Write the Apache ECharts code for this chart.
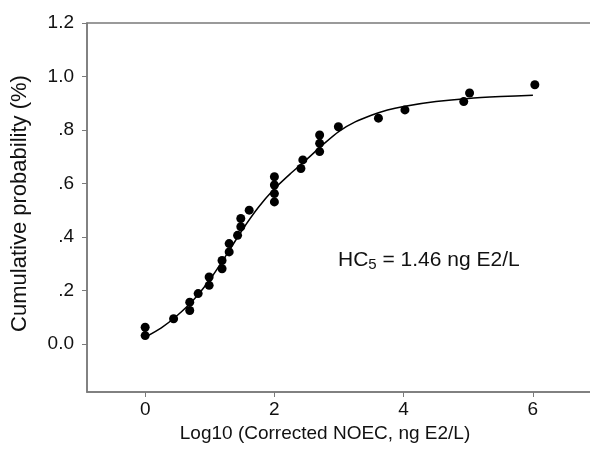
<!DOCTYPE html>
<html>
<head>
<meta charset="utf-8">
<script src="https://cdn.jsdelivr.net/npm/echarts@6/dist/echarts.min.js"></script>
<style>html,body{margin:0;padding:0;background:#fff;}#c{width:590px;height:454px;}</style>
</head>
<body>
<div id="c"></div>
<script>
// Observed data points (Log10 corrected NOEC, cumulative probability)
const pointX = [0, 0, 0.44, 0.69, 0.69, 0.82, 0.99, 0.99, 1.19, 1.19, 1.30, 1.30, 1.43, 1.48, 1.48, 1.61,
  2.0, 2.0, 2.0, 2.0, 2.41, 2.44, 2.70, 2.70, 2.70, 2.99, 3.61, 4.02, 4.93, 5.02, 6.03];
const pointY = [0.031, 0.062, 0.094, 0.125, 0.156, 0.188, 0.219, 0.25, 0.281, 0.312, 0.344, 0.375, 0.406, 0.438, 0.469, 0.5,
  0.531, 0.562, 0.594, 0.625, 0.656, 0.688, 0.719, 0.75, 0.781, 0.812, 0.844, 0.875, 0.906, 0.938, 0.969];
// Fitted curve
const curveX = [0, 0.25, 0.5, 0.75, 1, 1.25, 1.5, 1.75, 2, 2.25, 2.5, 2.75, 3, 3.25, 3.5, 3.75, 4, 4.5, 5, 5.5, 6];
const curveY = [0.025, 0.06, 0.107, 0.165, 0.24, 0.33, 0.425, 0.51, 0.58, 0.637, 0.69, 0.745, 0.795, 0.83, 0.855, 0.875, 0.888, 0.906, 0.918, 0.925, 0.93];
// Tick labels
const xTickValues = [0, 2, 4, 6];
const xTickLabels = ['0', '2', '4', '6'];
const yTickValues = [0, 0.2, 0.4, 0.6, 0.8, 1.0, 1.2];
const yTickLabels = ['0.0', '.2', '.4', '.6', '.8', '1.0', '1.2'];

const FONT = 'Liberation Sans, Arial, Helvetica, sans-serif';
const AXIS_COLOR = '#7a7a7a';
const TEXT_COLOR = '#111';

function lookup(vals, labels, v) {
  const i = vals.findIndex(t => Math.abs(t - v) < 1e-6);
  return i >= 0 ? labels[i] : '';
}

const chart = echarts.init(document.getElementById('c'), null, {renderer: 'canvas'});
chart.setOption({
  animation: false,
  backgroundColor: '#fff',
  grid: {left: 87, right: -3, top: 23, bottom: 62, containLabel: false, outerBoundsMode: 'none',
    show: true, borderColor: AXIS_COLOR, borderWidth: 1.5, backgroundColor: 'transparent'},
  xAxis: [{
    type: 'value', min: -0.9, max: 6.93, position: 'bottom',
    axisLine: {show: true, onZero: false, lineStyle: {color: AXIS_COLOR, width: 1.5}},
    axisTick: {show: true, customValues: xTickValues, length: 5, lineStyle: {color: AXIS_COLOR, width: 1}},
    axisLabel: {customValues: xTickValues, formatter: v => lookup(xTickValues, xTickLabels, v),
      fontSize: 19, fontFamily: FONT, color: TEXT_COLOR, margin: 8},
    splitLine: {show: false},
    name: 'Log10 (Corrected NOEC, ng E2/L)', nameLocation: 'middle', nameGap: 27,
    nameTextStyle: {fontSize: 19, fontFamily: FONT, color: TEXT_COLOR, padding: [0, 30, 0, 0]}
  }],
  yAxis: {
    type: 'value', min: -0.18, max: 1.2,
    axisLine: {show: true, onZero: false, lineStyle: {color: AXIS_COLOR, width: 1.5}},
    axisTick: {show: true, customValues: yTickValues, length: 5, lineStyle: {color: AXIS_COLOR, width: 1}},
    axisLabel: {customValues: yTickValues, formatter: v => lookup(yTickValues, yTickLabels, v),
      fontSize: 19, fontFamily: FONT, color: TEXT_COLOR, margin: 13},
    splitLine: {show: false},
    name: 'Cumulative probability (%)', nameLocation: 'middle', nameGap: 56,
    nameTextStyle: {fontSize: 22, fontFamily: FONT, color: TEXT_COLOR, padding: [0, 0, 0, 8]}
  },
  graphic: [{
    type: 'text', left: 338, top: 250, z: 10,
    style: {
      text: '{a|HC}{b|5}{a| = 1.46 ng E2/L}',
      rich: {
        a: {fontSize: 21, fontFamily: FONT, fill: TEXT_COLOR, lineHeight: 24},
        b: {fontSize: 15, fontFamily: FONT, fill: TEXT_COLOR, lineHeight: 13, verticalAlign: 'bottom'}
      }
    }
  }],
  series: [{
    type: 'line',
    data: curveX.map((x, i) => [x, curveY[i]]),
    smooth: 0.25, showSymbol: false, symbol: 'none',
    lineStyle: {color: '#000', width: 1.5}, z: 2
  }, {
    type: 'scatter',
    data: pointX.map((x, i) => [x, pointY[i]]),
    symbol: 'circle', symbolSize: 9,
    itemStyle: {color: '#000', opacity: 1}, z: 3
  }]
});
</script>
</body>
</html>
